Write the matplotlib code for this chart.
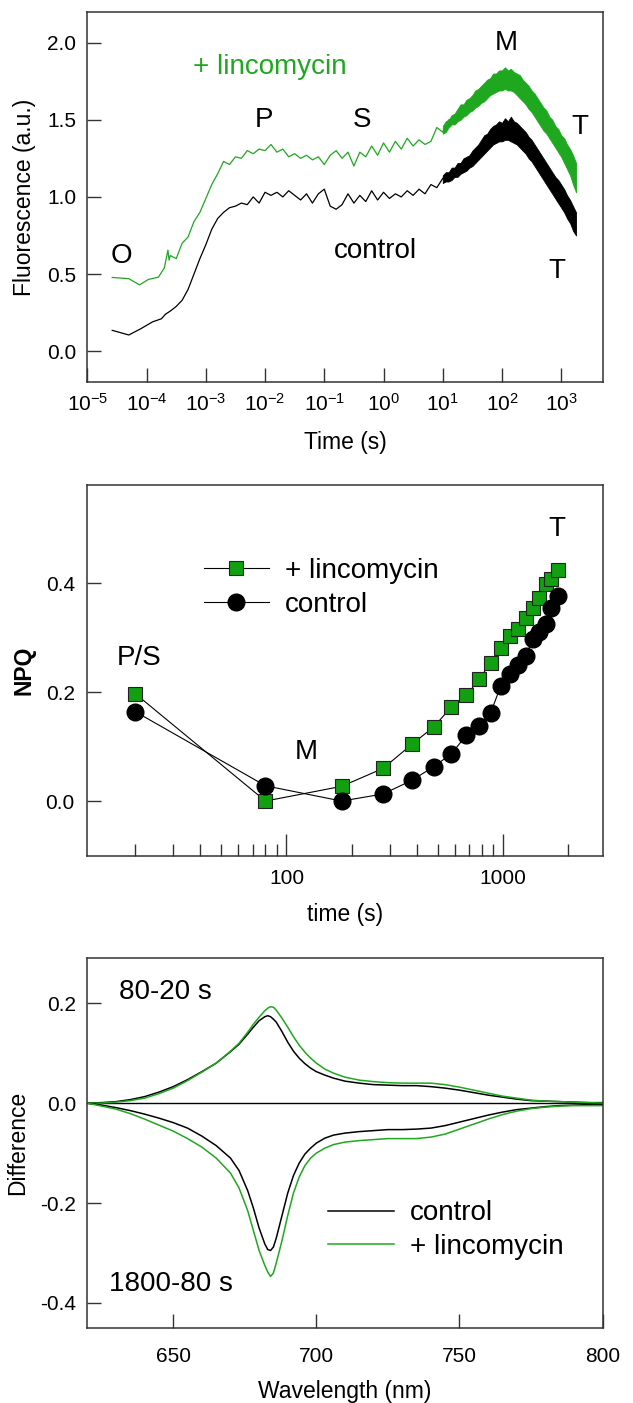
import matplotlib
matplotlib.use("Agg")
import matplotlib.pyplot as plt
import numpy as np

plt.rcParams['font.family'] = ['Liberation Sans', 'DejaVu Sans']
plt.rcParams['mathtext.default'] = 'regular'

GREEN = '#1fa81f'
SQUARE_GREEN = '#10a010'

# --- fluorescence induction (log10 time, a.u.) ---
lt_lin = [-4.58, -4.30, -4.12, -3.97, -3.80, -3.70, -3.64, -3.62,
          -3.6, -3.5, -3.4, -3.3, -3.2, -3.1, -3.0, -2.9, -2.8, -2.7, -2.6, -2.5,
          -2.4, -2.3, -2.2, -2.1, -2.0, -1.9, -1.8, -1.7, -1.6, -1.5, -1.4, -1.3,
          -1.2, -1.1, -1.0, -0.9, -0.8, -0.7, -0.6, -0.5, -0.4, -0.3, -0.2, -0.1,
          0.0, 0.1, 0.2, 0.3, 0.4, 0.5, 0.6, 0.7, 0.8, 0.9, 1.0, 1.1, 1.2, 1.3,
          1.4, 1.5, 1.6, 1.7, 1.8, 1.9, 2.0, 2.1, 2.2, 2.3, 2.4, 2.5, 2.6, 2.7,
          2.8, 2.9, 3.0, 3.1, 3.2, 3.25]
f_lin = [0.478, 0.470, 0.430, 0.465, 0.480, 0.540, 0.655, 0.590,
         0.62, 0.60, 0.70, 0.74, 0.84, 0.90, 0.99, 1.08, 1.15, 1.23, 1.21, 1.26,
         1.25, 1.30, 1.28, 1.31, 1.30, 1.34, 1.29, 1.31, 1.26, 1.28, 1.25, 1.27,
         1.24, 1.26, 1.21, 1.27, 1.30, 1.25, 1.29, 1.20, 1.29, 1.26, 1.33, 1.27,
         1.35, 1.29, 1.36, 1.31, 1.38, 1.33, 1.37, 1.34, 1.36, 1.45, 1.42, 1.50,
         1.49, 1.55, 1.57, 1.60, 1.64, 1.68, 1.71, 1.74, 1.75, 1.76, 1.73, 1.68,
         1.64, 1.58, 1.53, 1.47, 1.42, 1.37, 1.32, 1.25, 1.16, 1.10]

lt_ctl = [-4.58, -4.30, -4.10, -3.90, -3.75, -3.68,
          -3.6, -3.5, -3.4, -3.3, -3.2, -3.1, -3.0, -2.9, -2.8, -2.7, -2.6, -2.5,
          -2.4, -2.3, -2.2, -2.1, -2.0, -1.9, -1.8, -1.7, -1.6, -1.5, -1.4, -1.3,
          -1.2, -1.1, -1.0, -0.9, -0.8, -0.7, -0.6, -0.5, -0.4, -0.3, -0.2, -0.1,
          0.0, 0.1, 0.2, 0.3, 0.4, 0.5, 0.6, 0.7, 0.8, 0.9, 1.0, 1.1, 1.2, 1.3,
          1.4, 1.5, 1.6, 1.7, 1.8, 1.9, 2.0, 2.1, 2.2, 2.3, 2.4, 2.5, 2.6, 2.7,
          2.8, 2.9, 3.0, 3.1, 3.2, 3.25]
f_ctl = [0.135, 0.105, 0.145, 0.190, 0.210, 0.240,
         0.26, 0.29, 0.33, 0.40, 0.50, 0.60, 0.69, 0.79, 0.86, 0.90, 0.93, 0.94,
         0.96, 0.95, 1.00, 0.96, 1.03, 1.01, 1.03, 1.00, 1.04, 1.01, 0.98, 1.02,
         0.96, 1.02, 1.05, 0.94, 0.92, 0.95, 1.02, 0.96, 1.01, 0.97, 1.04, 0.98,
         1.03, 0.99, 1.02, 1.00, 1.04, 1.01, 1.05, 1.02, 1.08, 1.06, 1.12, 1.13,
         1.16, 1.19, 1.21, 1.24, 1.28, 1.32, 1.35, 1.38, 1.39, 1.40, 1.40, 1.37,
         1.34, 1.29, 1.25, 1.19, 1.14, 1.09, 1.04, 0.97, 0.88, 0.80]

# noise envelope of the slow phase (upper / lower edge)
lt_band = [1.00, 1.05, 1.10, 1.15, 1.20, 1.25, 1.30, 1.35, 1.40, 1.45,
           1.50, 1.55, 1.60, 1.65, 1.70, 1.75, 1.80, 1.85, 1.90, 1.95,
           2.00, 2.05, 2.10, 2.15, 2.20, 2.25, 2.30, 2.35, 2.40, 2.45,
           2.50, 2.55, 2.60, 2.65, 2.70, 2.75, 2.80, 2.85, 2.90, 2.95,
           3.00, 3.05, 3.10, 3.15, 3.20, 3.25]
lin_hi = [1.46, 1.49, 1.50, 1.53, 1.54, 1.57, 1.60, 1.60, 1.63, 1.64,
          1.66, 1.69, 1.70, 1.72, 1.74, 1.76, 1.77, 1.80, 1.80, 1.82,
          1.82, 1.84, 1.82, 1.83, 1.81, 1.80, 1.79, 1.76, 1.74, 1.72,
          1.69, 1.67, 1.64, 1.61, 1.58, 1.56, 1.52, 1.50, 1.46, 1.44,
          1.40, 1.38, 1.34, 1.31, 1.27, 1.22]
lin_lo = [1.41, 1.42, 1.45, 1.47, 1.47, 1.49, 1.50, 1.52, 1.53, 1.55,
          1.56, 1.58, 1.59, 1.61, 1.62, 1.64, 1.66, 1.67, 1.68, 1.69,
          1.69, 1.70, 1.69, 1.69, 1.68, 1.66, 1.64, 1.62, 1.60, 1.57,
          1.55, 1.52, 1.49, 1.46, 1.43, 1.41, 1.38, 1.35, 1.32, 1.29,
          1.26, 1.22, 1.18, 1.14, 1.08, 1.03]
ctl_hi = [1.14, 1.16, 1.16, 1.19, 1.19, 1.22, 1.22, 1.25, 1.26, 1.27,
          1.30, 1.32, 1.34, 1.37, 1.40, 1.41, 1.44, 1.46, 1.47, 1.49,
          1.48, 1.51, 1.49, 1.52, 1.49, 1.48, 1.46, 1.44, 1.42, 1.39,
          1.37, 1.34, 1.31, 1.28, 1.25, 1.22, 1.19, 1.16, 1.13, 1.11,
          1.08, 1.05, 1.01, 0.98, 0.94, 0.90]
ctl_lo = [1.09, 1.10, 1.10, 1.11, 1.13, 1.13, 1.15, 1.16, 1.17, 1.19,
          1.20, 1.22, 1.24, 1.26, 1.28, 1.30, 1.32, 1.34, 1.35, 1.36,
          1.36, 1.37, 1.37, 1.36, 1.35, 1.34, 1.32, 1.30, 1.28, 1.25,
          1.23, 1.20, 1.17, 1.14, 1.11, 1.08, 1.05, 1.02, 0.99, 0.96,
          0.93, 0.90, 0.86, 0.83, 0.78, 0.75]

# --- NPQ ---
npq_t = [20, 80, 180, 280, 380, 480, 580, 680, 780, 880, 980, 1080, 1180,
         1280, 1380, 1480, 1580, 1680, 1800]
npq_lin = [0.197, 0.0, 0.027, 0.060, 0.104, 0.136, 0.173, 0.194, 0.224, 0.254,
           0.280, 0.302, 0.315, 0.336, 0.354, 0.372, 0.399, 0.408, 0.424]
npq_ctl = [0.164, 0.028, 0.0, 0.013, 0.038, 0.063, 0.087, 0.121, 0.137, 0.162,
           0.211, 0.234, 0.249, 0.266, 0.297, 0.311, 0.325, 0.354, 0.377]

# --- difference spectra ---
wl = [620, 625, 630, 635, 640, 645, 650, 655, 660, 665,
      670, 673, 676, 678, 680, 682, 683, 684, 685, 686,
      688, 690, 692, 694, 696, 698, 700, 703, 706, 710,
      715, 720, 725, 730, 735, 740, 745, 750, 755, 760,
      765, 770, 775, 780, 785, 790, 795, 800]
# 80-20 s
up_ctl = [0.0, 0.001, 0.003, 0.007, 0.013, 0.022, 0.033, 0.047, 0.063, 0.080,
          0.103, 0.118, 0.138, 0.152, 0.165, 0.173, 0.175, 0.173, 0.168, 0.162,
          0.143, 0.122, 0.104, 0.090, 0.079, 0.070, 0.063, 0.056, 0.050, 0.044,
          0.040, 0.037, 0.036, 0.035, 0.035, 0.033, 0.030, 0.026, 0.021, 0.016,
          0.012, 0.008, 0.005, 0.004, 0.003, 0.002, 0.001, 0.001]
up_lin = [0.0, 0.0, 0.002, 0.005, 0.010, 0.019, 0.030, 0.045, 0.062, 0.080,
          0.104, 0.120, 0.142, 0.158, 0.172, 0.185, 0.190, 0.193, 0.192, 0.186,
          0.170, 0.152, 0.133, 0.116, 0.102, 0.090, 0.080, 0.068, 0.060, 0.052,
          0.046, 0.043, 0.041, 0.040, 0.040, 0.040, 0.037, 0.032, 0.026, 0.020,
          0.014, 0.010, 0.006, 0.004, 0.003, 0.002, 0.001, 0.0]
# 1800-80 s
dn_ctl = [0.0, -0.004, -0.009, -0.015, -0.022, -0.030, -0.039, -0.050, -0.066, -0.085,
          -0.110, -0.135, -0.175, -0.210, -0.250, -0.282, -0.293, -0.295, -0.288, -0.270,
          -0.225, -0.180, -0.145, -0.120, -0.102, -0.090, -0.080, -0.070, -0.064, -0.060,
          -0.057, -0.055, -0.053, -0.053, -0.052, -0.050, -0.045, -0.038, -0.031, -0.024,
          -0.018, -0.013, -0.010, -0.007, -0.005, -0.004, -0.003, -0.003]
dn_lin = [0.0, -0.006, -0.012, -0.021, -0.032, -0.044, -0.056, -0.071, -0.088, -0.110,
          -0.140, -0.170, -0.215, -0.255, -0.295, -0.325, -0.338, -0.347, -0.340, -0.320,
          -0.275, -0.225, -0.180, -0.148, -0.125, -0.110, -0.100, -0.090, -0.083, -0.078,
          -0.075, -0.073, -0.071, -0.071, -0.071, -0.068, -0.062, -0.052, -0.042, -0.032,
          -0.023, -0.016, -0.011, -0.008, -0.006, -0.005, -0.005, -0.005]

fig = plt.figure(figsize=(6.33, 14.03), dpi=100)
ax1 = fig.add_axes([0.138, 0.7277, 0.814, 0.2639])
ax2 = fig.add_axes([0.138, 0.3902, 0.814, 0.2641])
ax3 = fig.add_axes([0.138, 0.0535, 0.814, 0.2635])

for ax in (ax1, ax2, ax3):
    for sp in ax.spines.values():
        sp.set_linewidth(1.1)
        sp.set_color('#333333')
    ax.tick_params(which='both', direction='in', top=False, right=False,
                   labelsize=15, width=1, color='#333333')
    ax.tick_params(which='major', length=10)
    ax.tick_params(which='minor', length=6)

ANN = 20
LAB = 16.5

# top panel
t_band = 10 ** np.array(lt_band)
ax1.fill_between(t_band, lin_lo, lin_hi, color=GREEN, lw=0.6, edgecolor=GREEN)
ax1.fill_between(t_band, ctl_lo, ctl_hi, color='black', lw=0.6, edgecolor='black')
ax1.plot(10 ** np.array(lt_lin), f_lin, color=GREEN, lw=0.9)
ax1.plot(10 ** np.array(lt_ctl), f_ctl, color='black', lw=0.9)
ax1.set_xscale('log')
ax1.set_xlim(1e-5, 5000)
ax1.set_ylim(-0.2, 2.2)
ax1.set_xticks([10.0 ** k for k in range(-5, 4)])
ax1.set_xticklabels(['$10^{%d}$' % k for k in range(-5, 4)])
ax1.xaxis.set_minor_locator(matplotlib.ticker.NullLocator())
ax1.set_yticks([0.0, 0.5, 1.0, 1.5, 2.0])
ax1.set_yticklabels(['0.0', '0.5', '1.0', '1.5', '2.0'])
ax1.tick_params(axis='x', pad=8)
ax1.tick_params(axis='y', pad=8)
ax1.set_xlabel('Time (s)', fontsize=LAB)
ax1.set_ylabel('Fluorescence (a.u.)', fontsize=LAB)
ax1.xaxis.set_label_coords(0.5, -0.131)
ax1.yaxis.set_label_coords(-0.10, 0.5)
ax1.text(10 ** -3.21, 1.844, '+ lincomycin', color=GREEN, fontsize=ANN,
         ha='left', va='center')
for s, x, y in [('M', 2.07, 2.0), ('P', -2.02, 1.50), ('S', -0.36, 1.50),
                ('T', 3.32, 1.45), ('O', -4.42, 0.62), ('control', -0.14, 0.65),
                ('T', 2.93, 0.52)]:
    ax1.text(10 ** x, y, s, fontsize=ANN, ha='center', va='center')

# NPQ panel
ax2.plot(npq_t, npq_lin, color='black', lw=0.8, marker='s', ms=10.5,
         mfc=SQUARE_GREEN, mec='#222222', mew=0.8, label='+ lincomycin')
ax2.plot(npq_t, npq_ctl, color='black', lw=0.8, marker='o', ms=12,
         mfc='black', mec='black', label='control')
ax2.set_xscale('log')
ax2.set_xlim(12, 2900)
ax2.set_ylim(-0.1, 0.58)
ax2.set_yticks([0.0, 0.2, 0.4])
ax2.set_yticklabels(['0.0', '0.2', '0.4'])
ax2.set_xticks([100, 1000])
ax2.set_xticklabels(['100', '1000'])
ax2.xaxis.set_minor_locator(matplotlib.ticker.LogLocator(base=10, subs=np.arange(2, 10)))
ax2.xaxis.set_minor_formatter(matplotlib.ticker.NullFormatter())
ax2.tick_params(axis='x', which='major', length=16, pad=10)
ax2.tick_params(axis='x', which='minor', length=9)
ax2.tick_params(axis='y', pad=9)
ax2.set_xlabel('time (s)', fontsize=LAB)
ax2.set_ylabel('NPQ', fontsize=LAB, fontweight='bold')
ax2.xaxis.set_label_coords(0.5, -0.128)
ax2.yaxis.set_label_coords(-0.10, 0.5)
ax2.legend(loc='upper left', bbox_to_anchor=(0.226, 0.803), frameon=False,
           fontsize=ANN, borderpad=0, borderaxespad=0, handlelength=2.35,
           handletextpad=0.58, labelspacing=0.28, numpoints=1)
ax2.text(1787, 0.50, 'T', fontsize=ANN, ha='center', va='center')
ax2.text(20.8, 0.263, 'P/S', fontsize=ANN, ha='center', va='center')
ax2.text(124, 0.09, 'M', fontsize=ANN, ha='center', va='center')

# difference spectra panel
ax3.axhline(0, color='black', lw=1)
ax3.plot(wl, up_ctl, color='black', lw=1.1, label='control')
ax3.plot(wl, up_lin, color=GREEN, lw=1.1, label='+ lincomycin')
ax3.plot(wl, dn_ctl, color='black', lw=1.1)
ax3.plot(wl, dn_lin, color=GREEN, lw=1.1)
ax3.set_xlim(620, 800)
ax3.set_ylim(-0.45, 0.29)
ax3.set_xticks([650, 700, 750, 800])
ax3.set_yticks([-0.4, -0.2, 0.0, 0.2])
ax3.set_yticklabels(['-0.4', '-0.2', '0.0', '0.2'])
ax3.tick_params(axis='x', pad=14)
ax3.tick_params(axis='y', pad=8)
ax3.set_xlabel('Wavelength (nm)', fontsize=LAB)
ax3.set_ylabel('Difference', fontsize=LAB)
ax3.xaxis.set_label_coords(0.5, -0.14)
ax3.yaxis.set_label_coords(-0.113, 0.5)
ax3.legend(loc='upper left', bbox_to_anchor=(0.468, 0.345), frameon=False,
           fontsize=ANN, borderpad=0, borderaxespad=0, handlelength=2.35,
           handletextpad=0.58, labelspacing=0.28)
ax3.text(631, 0.222, '80-20 s', fontsize=ANN, ha='left', va='center')
ax3.text(627.5, -0.363, '1800-80 s', fontsize=ANN, ha='left', va='center')

fig.savefig('out.png', dpi=100)
